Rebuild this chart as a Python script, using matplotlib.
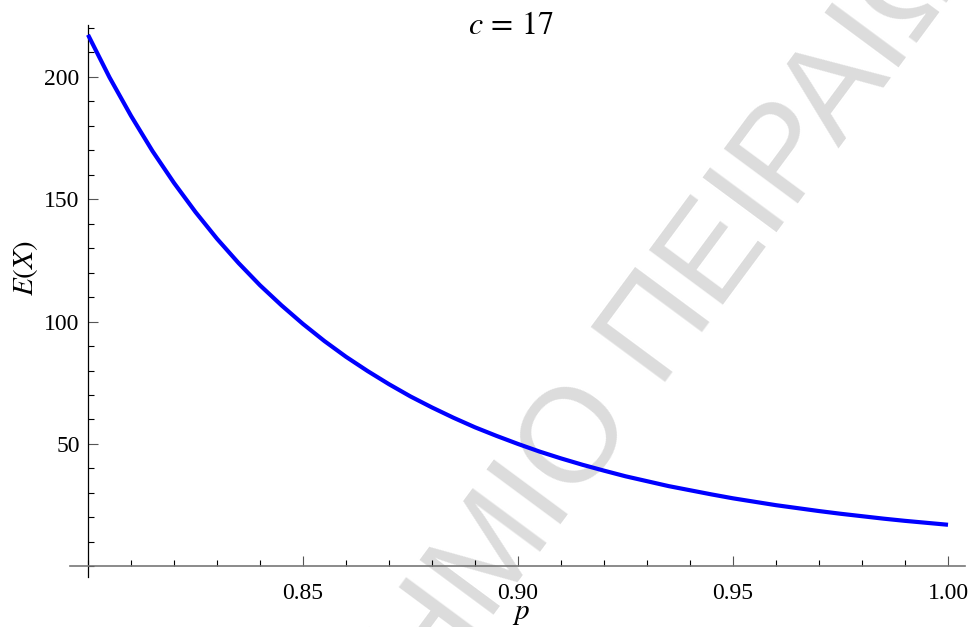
import matplotlib
matplotlib.use("Agg")
import matplotlib.pyplot as plt
from matplotlib.ticker import MultipleLocator, FixedLocator

# Data (c = 17)
p_values = [0.800, 0.805, 0.810, 0.815, 0.820, 0.825, 0.830, 0.835, 0.840, 0.845,
            0.850, 0.855, 0.860, 0.865, 0.870, 0.875, 0.880, 0.885, 0.890, 0.895,
            0.900, 0.905, 0.910, 0.915, 0.920, 0.925, 0.930, 0.935, 0.940, 0.945,
            0.950, 0.955, 0.960, 0.965, 0.970, 0.975, 0.980, 0.985, 0.990, 0.995, 1.000]
ex_values = [217.1, 199.7, 184.0, 169.6, 156.6, 144.7, 133.8, 123.9, 114.8, 106.6,
             99.0, 92.0, 85.6, 79.8, 74.4, 69.4, 64.9, 60.7, 56.8, 53.3,
             50.0, 46.9, 44.1, 41.5, 39.1, 36.8, 34.8, 32.8, 31.1, 29.4,
             27.8, 26.4, 25.0, 23.8, 22.6, 21.5, 20.5, 19.5, 18.6, 17.8, 17.0]
x_major = [0.85, 0.90, 0.95, 1.00]
x_labels = ["0.85", "0.90", "0.95", "1.00"]
y_major = [50, 100, 150, 200]
title_text = "$c\\,=\\,17$"
watermark = "ΠΑΝΕΠΙΣΤΗΜΙΟ ΠΕΙΡΑΙΩΣ"

plt.rcParams["font.family"] = "Liberation Serif"
plt.rcParams["mathtext.fontset"] = "stix"

fig = plt.figure(figsize=(9.68, 6.27), dpi=100)
ax = fig.add_axes([70 / 968, 50 / 627, 895 / 968, 552 / 627])
ax.patch.set_alpha(0)

# watermark behind everything
fig.text(500 / 968, 1 - 548 / 627, watermark, rotation=53.5, rotation_mode="anchor",
         ha="center", va="center", fontsize=96, color="#dcdcdc",
         family="Liberation Sans", zorder=-5)

ax.plot(p_values, ex_values, color="#0000ff", lw=3, solid_capstyle="butt", zorder=3)

ax.set_xlim(0.79581, 1.00395)
ax.set_ylim(-4.33, 221.1)

for s in ["top", "right"]:
    ax.spines[s].set_visible(False)
ax.spines["left"].set_position(("data", 0.8))
ax.spines["bottom"].set_position(("data", 0))
ax.spines["left"].set_color("black")
ax.spines["bottom"].set_color("#777777")
ax.spines["left"].set_linewidth(0.9)
ax.spines["bottom"].set_linewidth(1.2)

ax.xaxis.set_major_locator(FixedLocator(x_major))
ax.set_xticklabels(x_labels)
ax.xaxis.set_minor_locator(MultipleLocator(0.01))
ax.yaxis.set_major_locator(FixedLocator(y_major))
ax.yaxis.set_minor_locator(MultipleLocator(10))

ax.tick_params(axis="both", which="major", direction="in", length=7.5, width=0.8,
               labelsize=17, color="#555555")
ax.tick_params(axis="both", which="minor", direction="in", length=4.5, width=0.8,
               color="black")
ax.tick_params(axis="x", which="major", pad=12)
ax.tick_params(axis="y", which="major", pad=6)

fig.text(511 / 968, 1 - 27 / 627, title_text, ha="center", va="center", fontsize=23)
fig.text(521 / 968, 1 - 614 / 627, "$p$", ha="center", va="center", fontsize=21)
fig.text(26 / 968, 1 - 268 / 627, "$E(X)$", ha="center", va="center", fontsize=21,
         rotation=90)

fig.savefig("out.png", dpi=100)
